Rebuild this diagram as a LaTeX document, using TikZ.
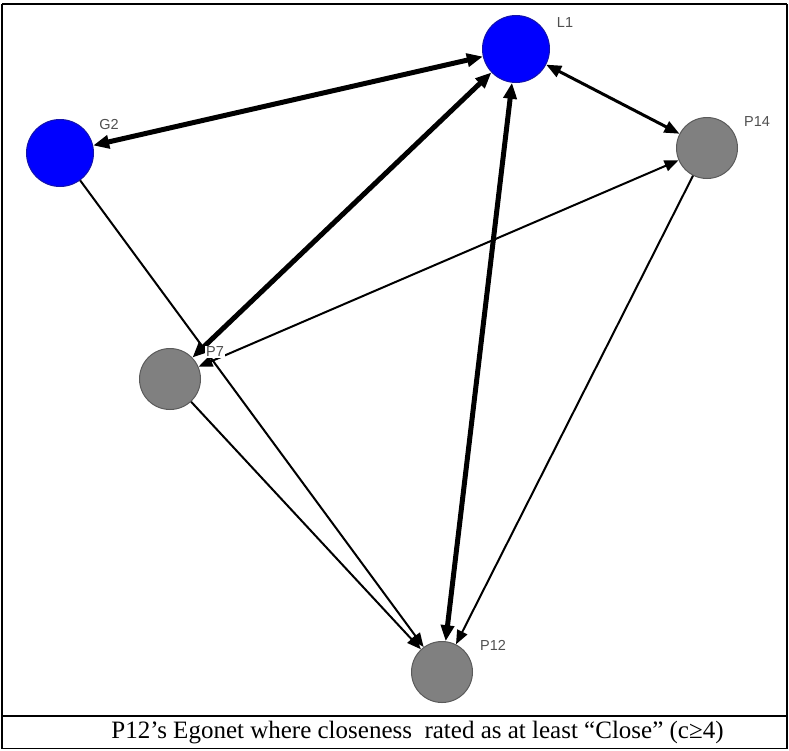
\documentclass[tikz,border=0pt]{standalone}
\usepackage{fontspec}
\setmainfont{Liberation Serif}
\newfontfamily\lblfont{Liberation Sans}
\usetikzlibrary{arrows.meta}
\definecolor{nodeblue}{RGB}{0,0,255}
\definecolor{nodeblueedge}{RGB}{20,20,170}
\definecolor{nodegrey}{RGB}{128,128,128}
\definecolor{nodegreyedge}{RGB}{90,90,90}
\definecolor{lblgrey}{RGB}{80,80,80}
\tikzset{
  bluenode/.style={circle,fill=nodeblue,draw=nodeblueedge,line width=1pt,minimum size=67pt,inner sep=0pt},
  greynode/.style={circle,fill=nodegrey,draw=nodegreyedge,line width=1pt,minimum size=61pt,inner sep=0pt},
  lbl/.style={font=\lblfont\fontsize{14.5}{16}\selectfont,text=lblgrey,inner sep=1pt},
  thickedge/.style={line width=5pt,{Triangle[length=16pt,width=13pt]}-{Triangle[length=16pt,width=13pt]}},
  midedge/.style={line width=3pt,{Triangle[length=15pt,width=12pt]}-{Triangle[length=15pt,width=12pt]}},
  thinboth/.style={line width=2pt,{Triangle[length=14pt,width=11pt]}-{Triangle[length=14pt,width=11pt]}},
  thinone/.style={line width=2pt,-{Triangle[length=14pt,width=11pt]}},
}
\begin{document}
\begin{tikzpicture}[x=1pt,y=-1pt]
\useasboundingbox (0,0) rectangle (789,750);
% frame
\draw[line width=1.8pt] (2,4) -- (787,4);
\draw[line width=1.8pt] (2,4) -- (2,749);
\draw[line width=1.8pt] (787,4) -- (787,749);
\draw[line width=1.2pt] (2,748.5) -- (787,748.5);
\draw[line width=2.4pt] (2,716) -- (787,716);
% nodes
\node[bluenode] (L1) at (516,49) {};
\node[bluenode] (G2) at (60,153) {};
\node[greynode] (P7) at (170,379) {};
\node[greynode] (P12) at (442,672) {};
\node[greynode] (P14) at (707,148) {};
% edges
\draw[thickedge] (G2) -- (L1);
\draw[thickedge] (P7) -- (L1);
\draw[thickedge] (P12) -- (L1);
\draw[midedge] (L1) -- (P14);
\draw[thinboth] (P7) -- (P14);
\draw[thinone] (G2) -- (P12);
\draw[thinone] (P7) -- (P12);
\draw[thinone] (P14) -- (P12);
% labels
\node[lbl] (lL1) at (565,23) {L1};
\node[lbl] (lG2) at (109,125) {G2};
\node[lbl,fill=white] (lP7) at (215,352) {P7};
\node[lbl] (lP12) at (493,645) {P12};
\node[lbl] (lP14) at (757,122) {P14};
% caption
\node[font=\fontsize{25}{28}\selectfont,inner sep=0pt] (cap) at (417.5,733) {P12’s Egonet where closeness\ \ rated as at least “Close” (c≥4)};
\end{tikzpicture}
\end{document}
